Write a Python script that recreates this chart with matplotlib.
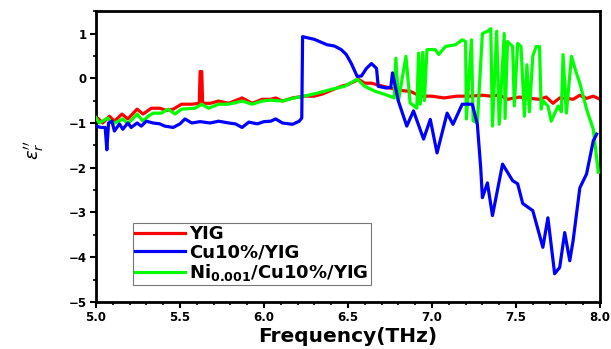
import matplotlib
matplotlib.use("Agg")
import matplotlib.pyplot as plt
from matplotlib.ticker import MultipleLocator

plt.rcParams['font.family'] = ['DejaVu Sans']
plt.rcParams['mathtext.fontset'] = 'dejavusans'

series_labels = ["YIG", "Cu10%/YIG", r"Ni$_{\mathbf{0.001}}$/Cu10%/YIG"]
series_colors = ["#ff0000", "#0000ff", "#00ff00"]

freq_yig = [5.00, 5.01, 5.04, 5.08, 5.11, 5.155, 5.19, 5.245, 5.28, 5.33,
            5.38, 5.42, 5.46, 5.51, 5.57, 5.615, 5.62, 5.63, 5.635, 5.68,
            5.73, 5.79, 5.87, 5.93, 5.99, 6.04, 6.07, 6.11, 6.17, 6.24,
            6.30, 6.35, 6.40, 6.46, 6.50, 6.54, 6.56, 6.60, 6.64, 6.68,
            6.71, 6.75, 6.79, 6.83, 6.87, 6.93, 7.00, 7.07, 7.15, 7.23,
            7.30, 7.35, 7.40, 7.45, 7.52, 7.58, 7.64, 7.68, 7.72, 7.76,
            7.80, 7.84, 7.88, 7.92, 7.96, 8.00]
eps_yig = [-0.95, -0.89, -1.00, -0.85, -0.96, -0.80, -0.91, -0.69, -0.80, -0.67,
           -0.67, -0.72, -0.69, -0.58, -0.58, -0.56, 0.15, 0.15, -0.56, -0.56,
           -0.51, -0.56, -0.44, -0.56, -0.47, -0.47, -0.44, -0.51, -0.44, -0.40,
           -0.40, -0.35, -0.27, -0.18, -0.14, -0.07, -0.02, -0.11, -0.11, -0.15,
           -0.18, -0.22, -0.25, -0.28, -0.29, -0.40, -0.40, -0.44, -0.40, -0.40,
           -0.38, -0.40, -0.37, -0.47, -0.42, -0.45, -0.47, -0.42, -0.56, -0.44,
           -0.45, -0.47, -0.38, -0.45, -0.40, -0.47]

freq_cu = [5.00, 5.03, 5.055, 5.065, 5.075, 5.095, 5.11, 5.14, 5.16, 5.19,
           5.21, 5.245, 5.27, 5.30, 5.34, 5.38, 5.41, 5.46, 5.50, 5.53,
           5.57, 5.62, 5.68, 5.73, 5.79, 5.83, 5.87, 5.91, 5.96, 6.00,
           6.04, 6.07, 6.11, 6.17, 6.21, 6.225, 6.23, 6.30, 6.375, 6.42,
           6.46, 6.49, 6.52, 6.555, 6.58, 6.61, 6.64, 6.67, 6.68, 6.73,
           6.755, 6.765, 6.80, 6.85, 6.89, 6.95, 6.99, 7.03, 7.09, 7.125,
           7.18, 7.24, 7.27, 7.29, 7.30, 7.33, 7.36, 7.42, 7.48, 7.51,
           7.54, 7.60, 7.66, 7.69, 7.73, 7.76, 7.79, 7.82, 7.84, 7.88,
           7.92, 7.96, 7.98]
eps_cu = [-1.07, -1.10, -1.10, -1.60, -1.00, -0.96, -1.18, -1.02, -1.14, -1.00,
          -1.10, -1.00, -1.07, -0.96, -1.00, -1.02, -1.07, -1.10, -1.02, -0.91,
          -1.00, -0.97, -1.00, -0.96, -1.00, -1.02, -1.10, -0.98, -1.02, -0.97,
          -0.96, -0.91, -1.00, -1.03, -0.96, -0.89, 0.93, 0.87, 0.75, 0.72,
          0.64, 0.53, 0.33, 0.04, 0.05, 0.22, 0.33, 0.22, -0.18, -0.22,
          -0.20, 0.12, -0.51, -1.07, -0.73, -1.36, -0.92, -1.67, -0.78, -1.03,
          -0.58, -0.58, -1.03, -2.00, -2.67, -2.34, -3.07, -1.92, -2.29, -2.36,
          -2.80, -2.96, -3.78, -3.12, -4.37, -4.23, -3.45, -4.08, -3.63, -2.45,
          -2.14, -1.40, -1.25]

freq_ni = [5.00, 5.02, 5.07, 5.10, 5.16, 5.19, 5.245, 5.28, 5.31, 5.34,
           5.39, 5.43, 5.47, 5.51, 5.59, 5.63, 5.67, 5.73, 5.79, 5.87,
           5.93, 5.99, 6.04, 6.11, 6.18, 6.24, 6.32, 6.40, 6.48, 6.555,
           6.60, 6.66, 6.72, 6.775, 6.785, 6.80, 6.845, 6.87, 6.91, 6.92,
           6.93, 6.945, 6.955, 6.97, 7.02, 7.04, 7.08, 7.14, 7.18, 7.20,
           7.205, 7.235, 7.245, 7.27, 7.30, 7.33, 7.35, 7.36, 7.385, 7.40,
           7.43, 7.435, 7.45, 7.48, 7.49, 7.51, 7.53, 7.55, 7.565, 7.58,
           7.60, 7.62, 7.64, 7.65, 7.66, 7.69, 7.71, 7.75, 7.77, 7.78,
           7.80, 7.83, 7.86, 7.88, 7.90, 7.92, 7.96, 7.99]
eps_ni = [-0.88, -1.00, -0.89, -1.02, -0.91, -1.02, -0.80, -0.96, -0.85, -0.78,
          -0.78, -0.69, -0.80, -0.69, -0.67, -0.58, -0.67, -0.58, -0.58, -0.51,
          -0.58, -0.51, -0.49, -0.51, -0.44, -0.40, -0.33, -0.25, -0.18, -0.02,
          -0.18, -0.29, -0.36, -0.44, 0.45, -0.51, 0.49, -0.55, -0.67, 0.56,
          -0.58, 0.58, -0.50, 0.64, 0.64, 0.53, 0.71, 0.75, 0.86, 0.82,
          -0.91, 0.86, -0.95, -1.00, 1.00, 1.05, 1.11, -1.07, 1.05, -1.03,
          1.00, -0.90, 0.82, 0.71, -0.62, 0.78, 0.71, -0.85, 0.30, -0.75,
          0.49, 0.71, 0.71, -0.69, -0.50, -0.62, -0.96, -0.62, -0.75, 0.53,
          -0.78, 0.49, 0.11, -0.11, -0.40, -0.69, -1.14, -2.10]

fig = plt.figure(figsize=(6.11, 3.49), dpi=100)
ax = fig.add_axes([0.157, 0.135, 0.825, 0.833])

lw = 2.3
ax.plot(freq_yig, eps_yig, color=series_colors[0], lw=lw, label=series_labels[0], zorder=2)
ax.plot(freq_ni, eps_ni, color=series_colors[2], lw=lw, label=series_labels[2], zorder=3)
ax.plot(freq_cu, eps_cu, color=series_colors[1], lw=lw, label=series_labels[1], zorder=4)

ax.set_xlim(5.0, 8.0)
ax.set_ylim(-5.0, 1.5)
ax.xaxis.set_major_locator(MultipleLocator(0.5))
ax.xaxis.set_minor_locator(MultipleLocator(0.1))
ax.yaxis.set_major_locator(MultipleLocator(1))
ax.yaxis.set_minor_locator(MultipleLocator(0.5))
ax.tick_params(which='major', direction='out', length=4, width=1.5, labelsize=8.5, pad=2.5)
ax.tick_params(which='minor', direction='out', length=2.5, width=1.2)
for lab in ax.get_xticklabels() + ax.get_yticklabels():
    lab.set_fontweight('bold')
for sp in ax.spines.values():
    sp.set_linewidth(2.0)
    sp.set_color('black')

ax.set_xlabel("Frequency(THz)", fontsize=14.5, fontweight='bold')
ax.xaxis.set_label_coords(0.5, -0.085)
ax.set_ylabel(r"$\varepsilon_r''$", fontsize=13)
ax.yaxis.set_label_coords(-0.10, 0.52)

handles, labels = ax.get_legend_handles_labels()
order = [0, 2, 1]
leg = ax.legend([handles[i] for i in order], [labels[i] for i in order],
                loc='lower left', bbox_to_anchor=(0.073, 0.058),
                prop={'weight': 'bold', 'size': 13}, frameon=True, fancybox=False,
                handlelength=2.8, handletextpad=0.2, labelspacing=0.02,
                borderpad=0.12, borderaxespad=0.0)
leg.get_frame().set_edgecolor('#555555')
leg.get_frame().set_linewidth(0.8)

fig.savefig("out.png", dpi=100)
